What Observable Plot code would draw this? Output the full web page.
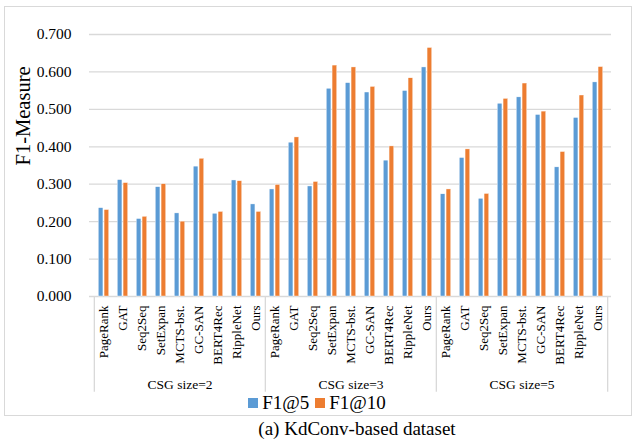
<!DOCTYPE html>
<html>
<head>
<meta charset="utf-8">
<script src="https://cdn.jsdelivr.net/npm/d3@7"></script>
<script src="https://cdn.jsdelivr.net/npm/@observablehq/plot@0.6"></script>
<style>
  html, body { margin: 0; padding: 0; background: #fff; }
  body { width: 634px; height: 442px; position: relative; overflow: hidden; font-family: 'Liberation Serif', 'Times New Roman', serif; }
  #frame { position: absolute; left: 4px; top: 6px; width: 628px; height: 410px; border: 1px solid #d9d9d9; box-sizing: border-box; }
  #chart { position: absolute; left: 0; top: 0; }
  #chart svg text { font-family: 'Liberation Serif', 'Times New Roman', serif; }
  #legend { position: absolute; left: 0; width: 634px; top: 392px; display: flex; justify-content: center; gap: 6px; font-size: 19px; color: #000; }
  #legend .item { display: flex; align-items: center; }
  #legend .sw { width: 10px; height: 10px; margin-right: 4px; }
  #caption { position: absolute; left: 0; width: 634px; top: 418px; text-align: center; font-size: 19px; color: #000; padding-left: 80px; box-sizing: border-box; }
</style>
</head>
<body>
<div id="frame"></div>
<div id="chart"></div>
<div id="legend"></div>
<div id="caption">(a) KdConv-based dataset</div>
<script>
const methods = ["PageRank","GAT","Seq2Seq","SetExpan","MCTS-bst.","GC-SAN","BERT4Rec","RippleNet","Ours"];
const groups = ["CSG size=2","CSG size=3","CSG size=5"];
const seriesNames = ["F1@5","F1@10"];
const seriesColors = ["#5b9bd5","#ed7d31"];
const f1at5 = [
  [0.236,0.311,0.207,0.292,0.222,0.347,0.221,0.310,0.246],
  [0.286,0.411,0.294,0.555,0.570,0.545,0.363,0.549,0.612],
  [0.273,0.370,0.261,0.515,0.532,0.485,0.345,0.477,0.572]
];
const f1at10 = [
  [0.231,0.303,0.213,0.300,0.200,0.368,0.226,0.308,0.226],
  [0.298,0.425,0.306,0.617,0.612,0.560,0.401,0.583,0.664],
  [0.286,0.393,0.274,0.528,0.569,0.494,0.386,0.537,0.613]
];
const yTicks = [0,0.1,0.2,0.3,0.4,0.5,0.6,0.7];

const key = (g, m) => g + "|" + m;
const rows = [];
groups.forEach((g, gi) => methods.forEach((m, mi) => {
  rows.push({k: key(g, m), group: g, method: m, s1: f1at5[gi][mi], s2: f1at10[gi][mi]});
}));
const domain = rows.map(r => r.k);

const W = 634, H = 420, mL = 89, mR = 23, mT = 34, mB = 124;
const bw = (W - mL - mR) / domain.length;
const barW = 5;
const inset = (bw - barW) / 2;
const off = 2.9;

const firstKeys = groups.map(g => key(g, methods[0]));
const lastKey = domain[domain.length - 1];
const midKeys = groups.map(g => key(g, methods[Math.floor(methods.length / 2)]));

const serif = "'Liberation Serif', 'Times New Roman', serif";

const plot = Plot.plot({
  width: W, height: H,
  marginLeft: mL, marginRight: mR, marginTop: mT, marginBottom: mB,
  style: {fontFamily: serif, background: "transparent", color: "#000", overflow: "visible"},
  x: {type: "band", domain, padding: 0, axis: null, label: null},
  y: {domain: [0, 0.7], axis: null, label: null},
  marks: [
    Plot.ruleY(yTicks, {stroke: "#d9d9d9", strokeWidth: 1.3}),
    Plot.barY(rows, {x: "k", y: "s1", fill: seriesColors[0], insetLeft: inset, insetRight: inset, dx: -off, stroke: "#fff", strokeWidth: 0.4}),
    Plot.barY(rows, {x: "k", y: "s2", fill: seriesColors[1], insetLeft: inset, insetRight: inset, dx: off, stroke: "#fff", strokeWidth: 0.4}),
    Plot.ruleX(firstKeys, {x: d => d, y1: 0, y2: -0.256, dx: -bw / 2, stroke: "#d9d9d9", strokeWidth: 1.3}),
    Plot.ruleX([lastKey], {x: d => d, y1: 0, y2: -0.256, dx: bw / 2, stroke: "#d9d9d9", strokeWidth: 1.3}),
    Plot.axisY({ticks: yTicks, tickFormat: d3.format(".3f"), tickSize: 0, tickPadding: 18, fontSize: 15.5, label: null}),
    Plot.axisX({tickSize: 0, tickPadding: 9, tickRotate: -90, fontSize: 13, label: null, tickFormat: d => d.split("|")[1]}),
    Plot.text(midKeys, {x: d => d, y: -0.236, text: d => d.split("|")[0], fontSize: 13.5, fill: "#000"}),
    Plot.text(["F1-Measure"], {frameAnchor: "left", dx: -66, rotate: -90, fontSize: 20.5, fill: "#000"})
  ]
});
document.getElementById("chart").appendChild(plot);

const legend = document.getElementById("legend");
seriesNames.forEach((n, i) => {
  const it = document.createElement("div");
  it.className = "item";
  const sw = document.createElement("span");
  sw.className = "sw";
  sw.style.background = seriesColors[i];
  const t = document.createElement("span");
  t.textContent = n;
  it.appendChild(sw); it.appendChild(t);
  legend.appendChild(it);
});
</script>
</body>
</html>
